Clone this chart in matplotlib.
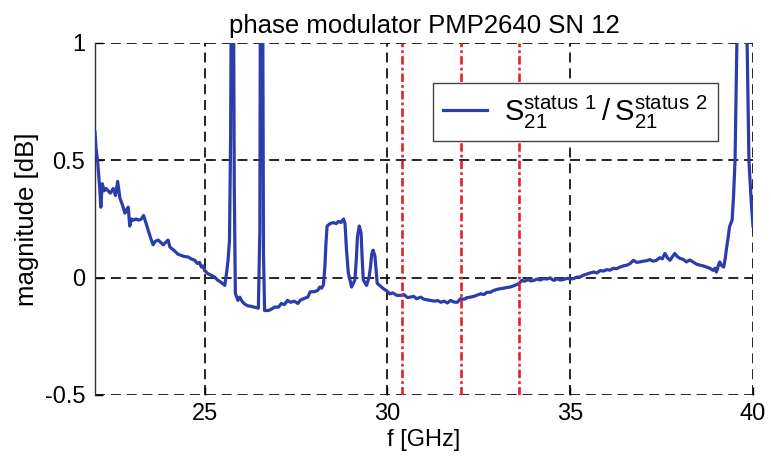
import matplotlib
matplotlib.use("Agg")
import matplotlib.pyplot as plt

plt.rcParams['font.family'] = ['Liberation Sans', 'DejaVu Sans']
plt.rcParams['mathtext.default'] = 'regular'

# frequency axis [GHz] and measured magnitude ratio [dB]
freq_ghz = [
	22.00, 22.03, 22.07, 22.10, 22.13, 22.16, 22.20, 22.25, 22.30, 22.36,
	22.42, 22.50, 22.56, 22.62, 22.68, 22.75, 22.82, 22.87, 22.91, 22.95,
	23.00, 23.05, 23.12, 23.20, 23.27, 23.33, 23.36, 23.42, 23.46, 23.52,
	23.59, 23.65, 23.73, 23.80, 23.87, 23.93, 24.00, 24.05, 24.09, 24.17,
	24.27, 24.35, 24.45, 24.55, 24.63, 24.73, 24.80, 24.86, 24.91, 24.96,
	25.00, 25.09, 25.18, 25.27, 25.35, 25.45, 25.55, 25.60, 25.64, 25.68,
	25.71, 25.74, 25.78, 25.81, 25.84, 25.91, 25.96, 26.02, 26.09, 26.18,
	26.27, 26.36, 26.47, 26.51, 26.53, 26.58, 26.61, 26.64, 26.75, 26.84,
	26.92, 27.02, 27.10, 27.18, 27.27, 27.35, 27.45, 27.55, 27.62, 27.70,
	27.82, 27.89, 28.00, 28.09, 28.15, 28.20, 28.25, 28.29, 28.32, 28.35,
	28.43, 28.52, 28.60, 28.66, 28.73, 28.80, 28.84, 28.88, 28.93, 29.02,
	29.08, 29.11, 29.15, 29.18, 29.23, 29.28, 29.31, 29.34, 29.43, 29.50,
	29.54, 29.57, 29.61, 29.66, 29.69, 29.72, 29.80, 29.89, 29.97, 30.07,
	30.15, 30.25, 30.35, 30.45, 30.55, 30.62, 30.72, 30.80, 30.91, 31.00,
	31.10, 31.18, 31.28, 31.38, 31.46, 31.55, 31.64, 31.73, 31.82, 31.91,
	32.00, 32.10, 32.18, 32.27, 32.36, 32.45, 32.55, 32.64, 32.72, 32.82,
	32.90, 33.00, 33.09, 33.18, 33.27, 33.36, 33.45, 33.53, 33.59, 33.64,
	33.68, 33.76, 33.85, 33.92, 34.00, 34.09, 34.18, 34.27, 34.36, 34.45,
	34.55, 34.64, 34.73, 34.82, 34.91, 35.00, 35.09, 35.18, 35.27, 35.36,
	35.45, 35.55, 35.64, 35.73, 35.82, 35.91, 36.00, 36.09, 36.18, 36.27,
	36.36, 36.45, 36.55, 36.64, 36.73, 36.82, 36.91, 37.00, 37.09, 37.18,
	37.27, 37.36, 37.45, 37.52, 37.59, 37.66, 37.73, 37.80, 37.86, 37.93,
	38.00, 38.09, 38.18, 38.27, 38.36, 38.45, 38.55, 38.64, 38.73, 38.82,
	38.91, 38.96, 39.00, 39.05, 39.09, 39.15, 39.20, 39.24, 39.27, 39.32,
	39.36, 39.43, 39.47, 39.51, 39.56, 39.60, 39.78, 39.84, 39.89, 39.95,
	40.00,
]
mag_db = [
	0.62, 0.55, 0.50, 0.44, 0.38, 0.30, 0.40, 0.37, 0.38, 0.37,
	0.36, 0.38, 0.35, 0.41, 0.34, 0.31, 0.275, 0.29, 0.30, 0.22,
	0.25, 0.245, 0.25, 0.245, 0.25, 0.265, 0.25, 0.22, 0.20, 0.17,
	0.14, 0.155, 0.16, 0.15, 0.14, 0.15, 0.16, 0.13, 0.125, 0.115,
	0.10, 0.095, 0.09, 0.088, 0.08, 0.074, 0.06, 0.065, 0.045, 0.05,
	0.03, 0.017, 0.01, 0.003, -0.01, -0.02, -0.033, 0.02, 0.074, 0.16,
	0.60, 1.6, 1.6, 0.40, -0.067, -0.097, -0.083, -0.10, -0.112, -0.12,
	-0.122, -0.126, -0.13, 0.20, 1.6, 1.6, 0.10, -0.14, -0.14, -0.133,
	-0.125, -0.126, -0.11, -0.115, -0.097, -0.105, -0.10, -0.11, -0.096, -0.09,
	-0.083, -0.06, -0.06, -0.055, -0.04, -0.045, -0.03, 0.05, 0.15, 0.22,
	0.23, 0.235, 0.23, 0.24, 0.235, 0.25, 0.23, 0.12, 0.02, -0.04,
	-0.02, -0.01, 0.08, 0.175, 0.22, 0.19, 0.08, -0.01, -0.033, 0.003,
	0.05, 0.10, 0.117, 0.09, 0.03, -0.024, -0.035, -0.047, -0.055, -0.069,
	-0.065, -0.075, -0.076, -0.072, -0.085, -0.083, -0.08, -0.09, -0.083, -0.092,
	-0.095, -0.097, -0.10, -0.098, -0.105, -0.10, -0.108, -0.097, -0.104, -0.105,
	-0.09, -0.092, -0.085, -0.083, -0.08, -0.075, -0.069, -0.072, -0.063, -0.062,
	-0.055, -0.05, -0.047, -0.045, -0.042, -0.04, -0.035, -0.03, -0.026, -0.018,
	-0.012, -0.015, -0.008, -0.014, -0.012, -0.006, -0.01, -0.004, -0.006, -0.001,
	-0.012, -0.005, -0.01, -0.008, -0.003, -0.006, -0.004, 0.002, 0.003, 0.01,
	0.015, 0.02, 0.024, 0.02, 0.03, 0.028, 0.034, 0.032, 0.04, 0.038,
	0.045, 0.05, 0.053, 0.06, 0.074, 0.065, 0.067, 0.07, 0.072, 0.077,
	0.07, 0.074, 0.085, 0.08, 0.103, 0.085, 0.074, 0.09, 0.103, 0.09,
	0.082, 0.078, 0.067, 0.075, 0.067, 0.058, 0.053, 0.05, 0.045, 0.04,
	0.031, 0.04, 0.024, 0.05, 0.067, 0.05, 0.045, 0.08, 0.117, 0.17,
	0.217, 0.246, 0.35, 0.50, 1.0, 1.6, 1.6, 1.0, 0.50, 0.33,
	0.22,
]

# band markers (dash-dot red)
band_ghz = [30.4, 32.0, 33.6]

x_ticks = [25, 30, 35, 40]
y_ticks = [-0.5, 0, 0.5, 1]
y_tick_labels = ['-0.5', '0', '0.5', '1']

fig = plt.figure(figsize=(7.71, 4.66), dpi=100)
ax = fig.add_axes([0.1232, 0.1524, 0.8534, 0.7554])

grid_style = dict(color='black', linestyle=(0, (6, 3.5)), linewidth=1.2)
for xt in x_ticks:
	ax.axvline(xt, zorder=1, **grid_style)
for yt in y_ticks:
	ax.axhline(yt, zorder=1, **grid_style)

ax.plot(freq_ghz, mag_db, color='#2b3cab', linewidth=2.3, zorder=3,
	label=r'$S_{21}^{status\ 1}\,/\,S_{21}^{status\ 2}$')

for b in band_ghz:
	ax.axvline(b, color='#e3202c', linewidth=1.9, linestyle=(0, (3.2, 1.2, 1, 1.2)), zorder=4)

ax.set_xlim(22, 40)
ax.set_ylim(-0.5, 1)
ax.set_xticks(x_ticks)
ax.set_yticks(y_ticks)
ax.set_yticklabels(y_tick_labels)

ax.tick_params(direction='in', length=6, width=1, labelsize=17, top=False, right=False)
ax.tick_params(axis='x', pad=6)
ax.tick_params(axis='y', pad=7)

for side in ['top', 'right', 'bottom']:
	ax.spines[side].set_visible(False)
ax.spines['left'].set_linewidth(1.0)
ax.spines['left'].set_color('#333333')

ax.set_title('phase modulator PMP2640 SN 12', fontsize=18.5, pad=7)
ax.set_xlabel('f [GHz]', fontsize=17, labelpad=3)
ax.set_ylabel('magnitude [dB]', fontsize=18.5, labelpad=4)

leg = ax.legend(loc='upper left', bbox_to_anchor=(0.5137, 0.886), borderaxespad=0,
	fontsize=21, handlelength=1.5, handletextpad=0.6, borderpad=0.35,
	fancybox=False, framealpha=1, edgecolor='#444444')
leg.get_frame().set_linewidth(1.0)

plt.savefig('out.png', dpi=100)
plt.close()
